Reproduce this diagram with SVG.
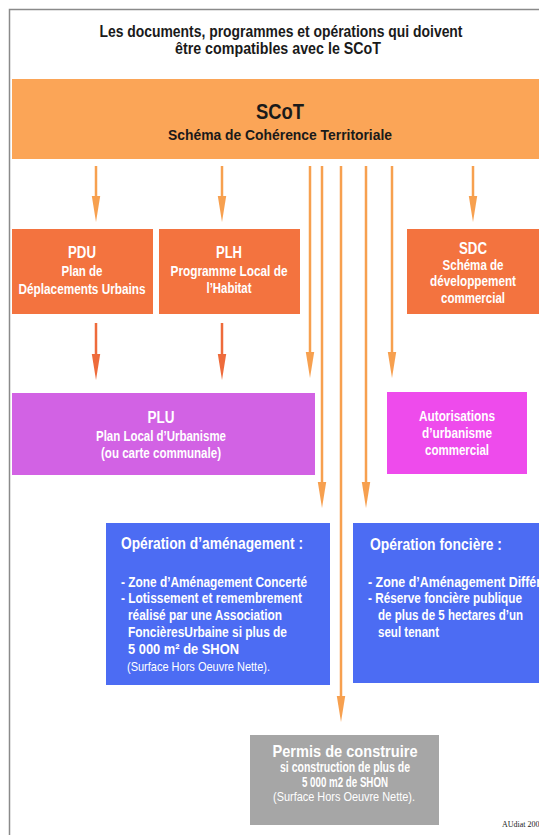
<svg xmlns="http://www.w3.org/2000/svg" width="539" height="835" viewBox="0 0 539 835">
<defs>
<style>
text{font-family:"Liberation Sans Narrow","Liberation Sans",Arial,sans-serif;font-weight:bold;}
.t{fill:#1a1a1a;font-size:16px;text-anchor:middle;}
.w{fill:#ffffff;}
.c{text-anchor:middle;}
.h{font-size:16px;}
.s{font-size:14px;}
.n{font-weight:normal;font-size:13px;}
.ln{stroke:#F7A04F;stroke-width:2.5;fill:none;}
.lr{stroke:#EE6B3B;stroke-width:2.5;fill:none;}
</style>
<marker id="ao" markerUnits="userSpaceOnUse" markerWidth="26" markerHeight="10" viewBox="0 0 26 10" refX="6" refY="5" orient="auto">
<path d="M0,0.8 L0,9.2 L26,5 Z" fill="#F7A04F"/>
</marker>
<marker id="ar" markerUnits="userSpaceOnUse" markerWidth="26" markerHeight="10" viewBox="0 0 26 10" refX="6" refY="5" orient="auto">
<path d="M0,0.8 L0,9.2 L26,5 Z" fill="#EE6B3B"/>
</marker>
</defs>
<rect x="0" y="0" width="539" height="835" fill="#ffffff"/>
<g id="frame">
<path d="M9.5,835 L9.5,9.5 L539,9.5" stroke="#8a8a8a" stroke-width="1.5" fill="none"/>
</g>
<g id="title">
<text class="t" x="281" y="37" textLength="363" lengthAdjust="spacingAndGlyphs">Les documents, programmes et opérations qui doivent</text>
<text class="t" x="278" y="54" textLength="206" lengthAdjust="spacingAndGlyphs">être compatibles avec le SCoT</text>
</g>
<g id="scot">
<rect x="12" y="79" width="527" height="80" fill="#FBA557"/>
<text class="c" x="280" y="119" style="font-size:22px;fill:#1a1a1a" textLength="48" lengthAdjust="spacingAndGlyphs">SCoT</text>
<text class="c" x="280" y="140" style="font-size:15px;fill:#1a1a1a" textLength="224" lengthAdjust="spacingAndGlyphs">Schéma de Cohérence Territoriale</text>
</g>
<g id="connectors">
<line class="ln" x1="96" y1="166" x2="96" y2="202" marker-end="url(#ao)"/>
<line class="ln" x1="222" y1="166" x2="222" y2="202" marker-end="url(#ao)"/>
<line class="ln" x1="473" y1="166" x2="473" y2="202" marker-end="url(#ao)"/>
<line class="ln" x1="310" y1="166" x2="310" y2="358" marker-end="url(#ao)"/>
<line class="ln" x1="322" y1="166" x2="322" y2="488" marker-end="url(#ao)"/>
<line class="ln" x1="341" y1="166" x2="341" y2="702" marker-end="url(#ao)"/>
<line class="ln" x1="366" y1="166" x2="366" y2="488" marker-end="url(#ao)"/>
<line class="ln" x1="392" y1="166" x2="392" y2="358" marker-end="url(#ao)"/>
<line class="lr" x1="96" y1="323" x2="96" y2="360" marker-end="url(#ar)"/>
<line class="lr" x1="222" y1="323" x2="222" y2="360" marker-end="url(#ar)"/>
</g>
<g id="pdu">
<rect x="12" y="229" width="141" height="85" fill="#F3733F"/>
<text class="w c h" x="82" y="258" textLength="28" lengthAdjust="spacingAndGlyphs">PDU</text>
<text class="w c s" x="82" y="276" textLength="41" lengthAdjust="spacingAndGlyphs">Plan de</text>
<text class="w c s" x="82" y="294" textLength="127" lengthAdjust="spacingAndGlyphs">Déplacements Urbains</text>
</g>
<g id="plh">
<rect x="159" y="229" width="141" height="85" fill="#F3733F"/>
<text class="w c h" x="229" y="258" textLength="26" lengthAdjust="spacingAndGlyphs">PLH</text>
<text class="w c s" x="229" y="276" textLength="117" lengthAdjust="spacingAndGlyphs">Programme Local de</text>
<text class="w c s" x="229" y="293" textLength="45" lengthAdjust="spacingAndGlyphs">l’Habitat</text>
</g>
<g id="sdc">
<rect x="407" y="229" width="132" height="85" fill="#F3733F"/>
<text class="w c h" x="473" y="254" textLength="28" lengthAdjust="spacingAndGlyphs">SDC</text>
<text class="w c s" x="473" y="270" textLength="61" lengthAdjust="spacingAndGlyphs">Schéma de</text>
<text class="w c s" x="473" y="286" textLength="86" lengthAdjust="spacingAndGlyphs">développement</text>
<text class="w c s" x="473" y="303" textLength="64" lengthAdjust="spacingAndGlyphs">commercial</text>
</g>
<g id="plu">
<rect x="12" y="393" width="303" height="82" fill="#D262E4"/>
<text class="w c h" x="161" y="423" textLength="27" lengthAdjust="spacingAndGlyphs">PLU</text>
<text class="w c s" x="161" y="441" textLength="130" lengthAdjust="spacingAndGlyphs">Plan Local d’Urbanisme</text>
<text class="w c s" x="161" y="458" textLength="120" lengthAdjust="spacingAndGlyphs">(ou carte communale)</text>
</g>
<g id="autorisations">
<rect x="387" y="392" width="140" height="82" fill="#EE4BEC"/>
<text class="w c s" x="457" y="421" textLength="76" lengthAdjust="spacingAndGlyphs">Autorisations</text>
<text class="w c s" x="457" y="438" textLength="70" lengthAdjust="spacingAndGlyphs">d’urbanisme</text>
<text class="w c s" x="457" y="455" textLength="64" lengthAdjust="spacingAndGlyphs">commercial</text>
</g>
<g id="amenagement">
<rect x="106" y="523" width="224" height="162" fill="#4C6CF3"/>
<text class="w" x="121" y="549" style="font-size:17px" textLength="182" lengthAdjust="spacingAndGlyphs">Opération d’aménagement :</text>
<text class="w s" x="121" y="587" textLength="186" lengthAdjust="spacingAndGlyphs">- Zone d’Aménagement Concerté</text>
<text class="w s" x="121" y="603" textLength="181" lengthAdjust="spacingAndGlyphs">- Lotissement et remembrement</text>
<text class="w s" x="128" y="620" textLength="154" lengthAdjust="spacingAndGlyphs">réalisé par une Association</text>
<text class="w s" x="128" y="637" textLength="159" lengthAdjust="spacingAndGlyphs">FoncièresUrbaine si plus de</text>
<text class="w s" x="128" y="654" textLength="111" lengthAdjust="spacingAndGlyphs">5 000 m² de SHON</text>
<text class="w n" x="127" y="671" textLength="143" lengthAdjust="spacingAndGlyphs">(Surface Hors Oeuvre Nette).</text>
</g>
<g id="fonciere">
<rect x="353" y="523" width="186" height="160" fill="#4C6CF3"/>
<text class="w" x="370" y="550" style="font-size:17px" textLength="132" lengthAdjust="spacingAndGlyphs">Opération foncière :</text>
<text class="w s" x="368" y="587" textLength="180" lengthAdjust="spacingAndGlyphs">- Zone d’Aménagement Différé</text>
<text class="w s" x="368" y="603" textLength="154" lengthAdjust="spacingAndGlyphs">- Réserve foncière publique</text>
<text class="w s" x="378" y="620" textLength="145" lengthAdjust="spacingAndGlyphs">de plus de 5 hectares d’un</text>
<text class="w s" x="378" y="637" textLength="61" lengthAdjust="spacingAndGlyphs">seul tenant</text>
</g>
<g id="permis">
<rect x="250" y="735" width="189" height="90" fill="#A6A6A6"/>
<text class="w c" x="345" y="757" style="font-size:17px" textLength="145" lengthAdjust="spacingAndGlyphs">Permis de construire</text>
<text class="w c s" x="345" y="772" textLength="130" lengthAdjust="spacingAndGlyphs">si construction de plus de</text>
<text class="w c s" x="345" y="787" textLength="86" lengthAdjust="spacingAndGlyphs">5 000 m2 de SHON</text>
<text class="w c n" x="344" y="801" style="font-size:12px" textLength="142" lengthAdjust="spacingAndGlyphs">(Surface Hors Oeuvre Nette).</text>
</g>
<g id="credit">
<text x="502" y="827" style="font-family:'Liberation Serif',serif;font-weight:normal;font-size:8px;fill:#222">AUdiat 200</text>
</g>
</svg>
